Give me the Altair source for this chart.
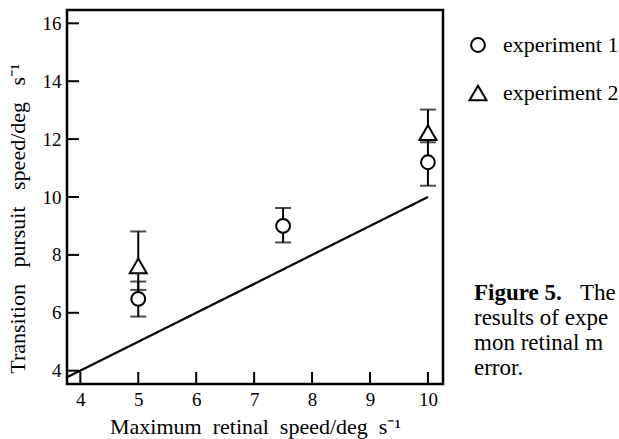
import altair as alt
import pandas as pd

# ---- data ----
series = ["experiment 1", "experiment 1", "experiment 1", "experiment 2", "experiment 2"]
x_vals = [5.0, 7.5, 10.0, 5.0, 10.0]
y_vals = [6.48, 9.0, 11.2, 7.62, 12.22]
y_lo = [5.87, 8.43, 10.39, 6.79, 11.89]
y_hi = [7.08, 9.62, 11.98, 8.81, 13.02]

line_x = [3.77, 10.0]
line_y = [3.77, 10.0]

x_ticks = [4, 5, 6, 7, 8, 9, 10]
y_ticks = [4, 6, 8, 10, 12, 14, 16]

legend_names = ["experiment 1", "experiment 2"]

caption_bold = "Figure 5."
caption_first = "The"
caption_lines = ["results of expe", "mon retinal m", "error."]

# ---- layout ----
W, H = 376, 374
FONT = "Liberation Serif"
XDOM = [3.77, 10.26]
YDOM = [3.54, 16.46]

pts = pd.DataFrame({"series": series, "x": x_vals, "y": y_vals, "lo": y_lo, "hi": y_hi})
caps = pd.DataFrame({"x": x_vals + x_vals, "v": y_lo + y_hi})
fit = pd.DataFrame({"x": line_x, "y": line_y})
xt = pd.DataFrame({"t": x_ticks})
yt = pd.DataFrame({"t": y_ticks})
leg = pd.DataFrame({"series": legend_names, "i": [0, 1]})

xs = alt.Scale(domain=XDOM, nice=False, zero=False)
ys = alt.Scale(domain=YDOM, nice=False, zero=False)

NB = "\u00a0"
xtitle = (" " + NB).join(("Maximum", "retinal", "speed/deg", "s\u207b\u00b9"))
ytitle = (" " + NB * 2).join(("Transition", "pursuit", "speed/deg", "s\u207b\u00b9"))

xaxis = alt.Axis(values=x_ticks, format="d", title=xtitle,
                 titleX=W / 2, titleY=42, titleBaseline="middle")
yaxis = alt.Axis(values=y_ticks, format="d", title=ytitle,
                 titleX=-50, titleY=208, titleBaseline="middle", titleAngle=-90)

shape_scale = alt.Scale(domain=legend_names, range=["circle", "triangle-up"])
size_scale = alt.Scale(domain=legend_names, range=[190, 290])

line = alt.Chart(fit).mark_line(color="black", strokeWidth=2.2).encode(
    x=alt.X("x:Q", scale=xs, axis=xaxis),
    y=alt.Y("y:Q", scale=ys, axis=yaxis),
)

err = alt.Chart(pts).mark_rule(color="black", strokeWidth=2).encode(
    x="x:Q", y="lo:Q", y2="hi:Q"
)

capm = alt.Chart(caps).mark_tick(color="black", thickness=2, size=16, orient="horizontal").encode(
    x="x:Q", y=alt.Y("v:Q")
)

points = alt.Chart(pts).mark_point(color="black", fill="white", fillOpacity=1,
                                   strokeWidth=2, opacity=1).encode(
    x="x:Q", y="y:Q",
    shape=alt.Shape("series:N", scale=shape_scale, legend=None),
    size=alt.Size("series:N", scale=size_scale, legend=None),
)

ytick_rules = alt.Chart(yt).mark_rule(color="black", strokeWidth=2).encode(
    y="t:Q", x=alt.value(0), x2=alt.value(12)
)
xtick_rules = alt.Chart(xt).mark_rule(color="black", strokeWidth=2).encode(
    x="t:Q", y=alt.value(H), y2=alt.value(H - 12)
)

# legend key (drawn as its own small layer)
leg_y = alt.Y("i:Q", scale=alt.Scale(domain=[0, 1], range=[35, 83]), axis=None)
leg_sym = alt.Chart(leg).mark_point(color="black", fill="white", fillOpacity=1,
                                    strokeWidth=2, opacity=1).encode(
    x=alt.value(411), y=leg_y,
    shape=alt.Shape("series:N", scale=shape_scale, legend=None),
    size=alt.Size("series:N", scale=size_scale, legend=None),
)
leg_txt = alt.Chart(leg).mark_text(font=FONT, fontSize=22, align="left", baseline="middle",
                                   color="black").encode(
    x=alt.value(436), y=leg_y, text="series:N"
)
legend_layer = alt.layer(leg_sym, leg_txt)

CF = 23
cap_b = alt.Chart(pd.DataFrame({"t": [caption_bold]})).mark_text(
    font=FONT, fontSize=CF, fontWeight="bold", align="left", baseline="alphabetic", color="black"
).encode(text="t:N", x=alt.value(407), y=alt.value(290))
cap_f = alt.Chart(pd.DataFrame({"t": [caption_first]})).mark_text(
    font=FONT, fontSize=CF, align="left", baseline="alphabetic", color="black"
).encode(text="t:N", x=alt.value(513), y=alt.value(290))
cap_l = alt.Chart(pd.DataFrame({"t": caption_lines, "i": [0, 1, 2]})).mark_text(
    font=FONT, fontSize=CF, align="left", baseline="alphabetic", color="black"
).encode(text="t:N", x=alt.value(407),
         y=alt.Y("i:Q", scale=alt.Scale(domain=[0, 1], range=[315, 340]), axis=None))

chart = alt.layer(line, err, capm, points, ytick_rules, xtick_rules)

full = alt.layer(chart, legend_layer, cap_b, cap_f, cap_l).resolve_scale(y="independent").properties(
    width=W, height=H,
    autosize=alt.AutoSizeParams(type="none"),
    padding={"left": 67, "top": 10, "right": 176, "bottom": 55},
    background="white",
).configure_view(stroke="black", strokeWidth=2.5).configure_axis(
    grid=False, ticks=False, domain=False,
    labelFont=FONT, labelFontSize=19, labelColor="black", labelPadding=6,
    titleFont=FONT, titleFontSize=22, titleFontWeight="normal", titleColor="black",
)

full.save("out.html", embed_options={"renderer": "svg", "actions": False})
